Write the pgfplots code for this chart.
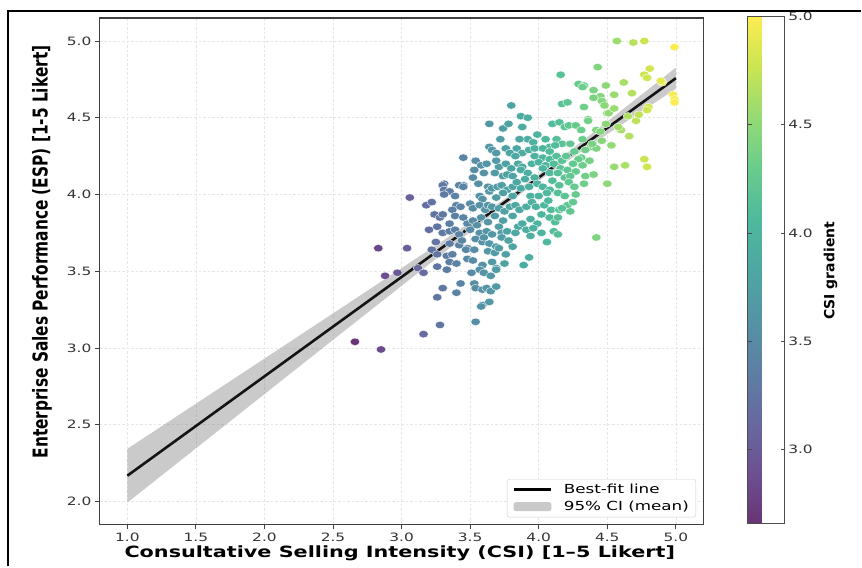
\documentclass[border=0pt]{standalone}
\usepackage{fontspec}
\setmainfont{DejaVu Sans}[FakeStretch=1.34]
\newfontfamily\vfont{DejaVu Sans}[FakeStretch=0.75]
\newfontfamily\cfont{DejaVu Sans}[FakeStretch=1.0]
\usepackage{pgfplots}
\usepackage{pgfplotstable}
\pgfplotsset{compat=1.18}
\usepgfplotslibrary{fillbetween}

% best-fit line and 95% CI band
\pgfplotstableread{
x    fit     up      lo
1.00 2.1675 2.3427 1.9923
1.25 2.3294 2.4897 2.1691
1.50 2.4913 2.6367 2.3459
1.75 2.6531 2.7836 2.5226
2.00 2.8150 2.9307 2.6993
2.25 2.9769 3.0779 2.8759
2.50 3.1388 3.2251 3.0525
2.75 3.3006 3.3724 3.2288
3.00 3.4625 3.5201 3.4049
3.25 3.6244 3.6682 3.5806
3.50 3.7863 3.8175 3.7551
3.75 3.9481 3.9700 3.9262
4.00 4.1100 4.1309 4.0891
4.25 4.2719 4.3009 4.2429
4.50 4.4338 4.4750 4.3926
4.75 4.5956 4.6504 4.5408
5.00 4.7575 4.8265 4.6885
}\citable

% scatter points (CSI, ESP)
\pgfplotstableread{
x y
2.66 3.04
2.85 2.99
2.83 3.65
2.88 3.47
2.97 3.49
3.04 3.65
3.06 3.98
3.12 3.52
3.16 3.49
3.16 3.09
3.28 3.15
3.18 3.93
3.22 3.95
3.25 3.69
3.31 4.07
4.43 4.83
4.16 4.78
4.81 4.82
4.77 4.78
4.79 4.76
4.29 4.72
4.33 4.71
4.49 4.71
4.62 4.73
4.90 4.73
4.57 5.00
4.69 4.99
4.77 5.00
4.99 4.96
4.40 4.68
4.68 4.66
4.55 4.65
4.45 4.64
4.47 4.60
4.40 4.63
4.17 4.59
4.21 4.60
4.33 4.57
4.50 4.53
4.98 4.65
4.99 4.62
4.99 4.60
4.80 4.57
4.79 4.55
4.89 4.74
3.80 4.58
3.87 4.51
3.92 4.50
4.65 4.51
4.71 4.48
4.73 4.52
4.32 4.70
4.51 4.53
4.36 4.49
4.46 4.61
4.48 4.58
4.55 4.56
3.64 4.46
3.74 4.43
3.78 4.46
3.88 4.44
4.10 4.46
4.15 4.47
4.19 4.44
4.22 4.45
4.27 4.45
4.31 4.42
4.36 4.48
4.42 4.42
4.45 4.41
4.49 4.46
4.60 4.42
4.58 4.44
4.66 4.38
3.99 4.39
3.92 4.36
4.05 4.36
4.13 4.36
4.17 4.33
4.08 4.31
4.23 4.33
4.32 4.36
4.38 4.31
4.42 4.30
4.46 4.35
4.53 4.32
4.39 4.33
4.34 4.29
4.31 4.24
4.26 4.28
4.12 4.32
3.96 4.34
3.86 4.36
3.72 4.36
3.64 4.31
3.66 4.29
3.76 4.30
3.79 4.27
3.84 4.30
3.88 4.27
3.93 4.29
3.97 4.30
4.03 4.30
4.08 4.28
3.45 4.24
3.54 4.22
3.69 4.27
3.83 4.25
3.85 4.20
3.88 4.18
3.97 4.25
4.03 4.24
4.08 4.23
4.13 4.25
4.17 4.22
4.20 4.25
4.29 4.23
4.25 4.20
4.32 4.19
4.37 4.22
4.77 4.23
4.79 4.18
4.55 4.18
4.63 4.19
3.58 4.19
3.62 4.20
3.71 4.18
3.76 4.20
3.80 4.17
3.95 4.20
4.00 4.21
4.05 4.19
4.11 4.20
4.16 4.17
4.21 4.16
4.27 4.15
4.34 4.12
4.40 4.13
3.53 4.16
3.69 4.22
3.60 4.14
3.68 4.14
3.74 4.12
3.77 4.13
3.81 4.12
3.87 4.16
3.92 4.14
4.03 4.17
4.08 4.14
4.14 4.14
4.19 4.11
4.23 4.12
3.52 4.11
3.56 4.07
3.45 4.06
3.30 4.06
3.31 4.03
3.42 4.06
3.45 4.05
3.63 4.05
3.64 4.02
3.66 4.04
3.70 4.05
3.73 4.06
3.77 4.03
3.81 4.05
3.84 4.08
3.87 4.04
3.90 4.10
3.93 4.05
3.97 4.11
3.99 4.07
4.03 4.05
4.08 4.03
4.10 4.09
4.15 4.06
4.22 4.08
4.26 4.05
4.33 4.07
4.50 4.07
3.35 4.02
3.31 4.00
3.39 3.99
3.57 3.99
3.59 3.97
3.74 4.01
3.69 3.98
3.81 3.99
3.94 3.99
4.00 3.99
4.06 4.01
4.14 4.01
4.19 3.99
4.27 4.00
3.40 3.93
3.43 3.92
3.37 3.90
3.50 3.94
3.52 3.91
3.57 3.93
3.61 3.90
3.63 3.93
3.66 3.92
3.71 3.91
3.75 3.89
3.79 3.92
3.83 3.93
3.86 3.90
3.91 3.92
3.95 3.95
3.98 3.92
4.04 3.93
4.07 3.96
4.09 3.90
4.15 3.90
4.21 3.93
4.17 3.91
4.23 3.89
4.25 3.95
3.24 3.87
3.28 3.85
3.30 3.87
3.35 3.81
3.39 3.86
3.45 3.85
3.48 3.81
3.52 3.83
3.55 3.80
3.58 3.85
3.63 3.82
3.68 3.86
3.71 3.79
3.74 3.83
3.81 3.86
3.85 3.79
3.88 3.81
3.94 3.84
3.99 3.81
4.02 3.87
4.08 3.85
4.12 3.82
4.14 3.85
3.20 3.77
3.26 3.79
3.30 3.75
3.35 3.76
3.39 3.77
3.42 3.74
3.50 3.77
3.57 3.75
3.62 3.76
3.66 3.74
3.73 3.75
3.77 3.76
3.83 3.75
3.91 3.77
3.96 3.78
4.02 3.75
4.11 3.76
4.14 3.74
4.42 3.72
3.25 3.69
3.35 3.68
3.42 3.67
3.44 3.70
3.48 3.65
3.54 3.71
3.59 3.69
3.60 3.72
3.64 3.68
3.69 3.66
3.73 3.72
3.78 3.70
3.81 3.66
3.94 3.73
4.06 3.69
3.22 3.64
3.26 3.61
3.33 3.60
3.37 3.61
3.47 3.64
3.53 3.64
3.35 3.56
3.40 3.55
3.48 3.58
3.52 3.57
3.26 3.53
3.33 3.51
3.63 3.63
3.68 3.62
3.71 3.65
3.76 3.61
3.59 3.54
3.66 3.56
3.69 3.52
3.75 3.55
3.93 3.59
3.89 3.54
3.51 3.49
3.57 3.51
3.60 3.49
3.65 3.47
3.69 3.51
3.30 3.39
3.40 3.36
3.43 3.42
3.53 3.42
3.54 3.39
3.59 3.38
3.62 3.39
3.65 3.37
3.69 3.40
3.26 3.33
3.59 3.28
3.64 3.30
3.54 3.17
3.58 3.27
}\pts

\pgfplotsset{
  colormap={virA}{
    rgb255=(105,52,118) rgb255=(109,80,145) rgb255=(103,105,159)
    rgb255=(93,127,164) rgb255=(85,147,165) rgb255=(77,167,163)
    rgb255=(78,185,157) rgb255=(105,204,141) rgb255=(149,218,116)
    rgb255=(202,229,81) rgb255=(253,236,81)
  },
}

\begin{document}
\begin{tikzpicture}
\begin{axis}[
    at={(100pt,42pt)}, anchor=south west,
    scale only axis,
    width=604pt, height=507pt,
    xmin=0.8, xmax=5.2,
    ymin=1.85, ymax=5.15,
    xtick={1,1.5,2,2.5,3,3.5,4,4.5,5},
    xticklabels={1.0,1.5,2.0,2.5,3.0,3.5,4.0,4.5,5.0},
    ytick={2,2.5,3,3.5,4,4.5,5},
    yticklabels={2.0,2.5,3.0,3.5,4.0,4.5,5.0},
    tick pos=left, tick align=outside,
    major tick length=5pt,
    tick style={black!75, line width=0.8pt},
    axis line style={black!75, line width=1.2pt},
    ticklabel style={font=\fontsize{11.5}{13}\selectfont, text=black!80},
    grid=major,
    major grid style={black!10, line width=0.5pt, dash pattern=on 2.5pt off 2pt},
    xlabel={Consultative Selling Intensity (CSI) [1–5 Likert]},
    xlabel style={font=\fontsize{15.5}{17}\selectfont\bfseries,
      at={(axis description cs:0.497,-0.057)}, anchor=center},
    ylabel={Enterprise Sales Performance (ESP) [1-5 Likert]},
    ylabel style={font=\vfont\fontsize{20.5}{22}\selectfont\bfseries,
      at={(axis description cs:-0.096,0.538)}, anchor=center},
    colormap name=virA,
    point meta min=2.66, point meta max=5.0,
    colorbar,
    colorbar style={
      at={(parent axis.north east)}, anchor=north west,
      xshift=36pt, yshift=2pt,
      scale only axis, width=37pt, height=508pt,
      ytick={3,3.5,4,4.5,5},
      yticklabels={3.0,3.5,4.0,4.5,5.0},
      yticklabel style={font=\fontsize{11.5}{13}\selectfont, text=black!80},
      major tick length=4pt,
      tick style={black!70, line width=0.6pt},
      axis line style={black!70, line width=0.6pt},
      ylabel={CSI gradient},
      ylabel style={font=\cfont\fontsize{14}{16}\selectfont\bfseries,
        at={(axis description cs:2.24,0.498)}, anchor=center},
    },
    legend style={at={(0.988,0.014)}, anchor=south east,
      draw=black!20, rounded corners=2.5pt, fill=white,
      font=\fontsize{12.5}{14}\selectfont,
      inner xsep=5pt, inner ysep=3pt, row sep=2pt,
      /tikz/every odd column/.append style={column sep=9pt}},
    legend cell align=left,
    reverse legend,
]
\addplot[scatter, only marks, scatter src=x, mark=*, mark size=4.8pt,
  scatter/use mapped color={draw=white, fill=mapped color},
  mark options={yscale=0.78, line width=0.35pt}, forget plot]
  table[x=x, y=y] {\pts};

\addplot[name path=up, draw=none, forget plot] table[x=x, y=up] {\citable};
\addplot[name path=lo, draw=none, forget plot] table[x=x, y=lo] {\citable};
\addplot[fill=gray, fill opacity=0.42, draw=none,
  legend image code/.code={\fill[gray, fill opacity=0.42] (0pt,-4.5pt) rectangle (38pt,4.5pt);}]
  fill between[of=up and lo];
\addlegendentry{95\% CI (mean)}

\addplot[black!92, line width=2.6pt,
  legend image code/.code={\draw[black, line width=2.8pt] (0pt,0pt) -- (38pt,0pt);}]
  table[x=x, y=fit] {\citable};
\addlegendentry{Best-fit line}
\end{axis}
\draw[black, line width=1.8pt] (8pt,0pt) -- (8pt,556pt) -- (862pt,556pt);
\path (0pt,0pt) rectangle (862pt,567pt);
\end{tikzpicture}
\end{document}
